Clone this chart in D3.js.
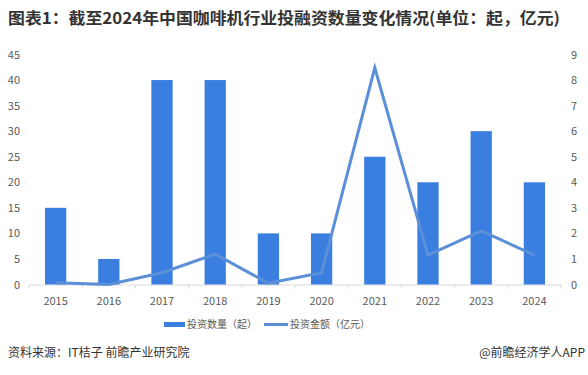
<!DOCTYPE html>
<html lang="zh">
<head>
<meta charset="utf-8">
<title>咖啡机行业投融资</title>
<script src="https://d3js.org/d3.v7.min.js"></script>
<style>
  body { margin: 0; background: #fff; }
  svg text { font-family: "Noto Sans CJK SC", "Noto Sans", sans-serif; }
</style>
</head>
<body>
<div id="chart"></div>
<script>
  var years = ["2015", "2016", "2017", "2018", "2019", "2020", "2021", "2022", "2023", "2024"];
  var dealCount = [15, 5, 40, 40, 10, 10, 25, 20, 30, 20];
  var dealAmount = [0.07, 0.0, 0.46, 1.19, 0.05, 0.46, 8.48, 1.15, 2.1, 1.15];
  var leftTicks = [0, 5, 10, 15, 20, 25, 30, 35, 40, 45];
  var rightTicks = [0, 1, 2, 3, 4, 5, 6, 7, 8, 9];

  var w = 588, h = 375;
  // plot area (note: "top" is reserved on window, so use plotTop)
  var plotLeft = 29, plotRight = 561, plotTop = 54.5, plotBottom = 284.5;

  var svg = d3.select("#chart").append("svg")
    .attr("width", w)
    .attr("height", h);

  // title
  svg.append("text")
    .attr("x", 8)
    .attr("y", 24)
    .attr("font-size", 16)
    .attr("font-weight", "bold")
    .attr("fill", "#333")
    .attr("textLength", 552)
    .attr("lengthAdjust", "spacingAndGlyphs")
    .text("图表1：截至2024年中国咖啡机行业投融资数量变化情况(单位：起，亿元)");

  var x = d3.scaleBand()
    .domain(years)
    .range([plotLeft, plotRight])
    .paddingInner(0.6)
    .paddingOuter(0.3);

  var xOuter = d3.scaleBand().domain(years).range([plotLeft, plotRight]);

  var yL = d3.scaleLinear().domain([0, 45]).range([plotBottom, plotTop]);
  var yR = d3.scaleLinear().domain([0, 9]).range([plotBottom, plotTop]);

  // left axis labels
  svg.append("g")
    .attr("transform", "translate(20,0)")
    .call(d3.axisLeft(yL).tickValues(leftTicks).tickSize(0).tickPadding(0))
    .call(g => g.select(".domain").remove())
    .selectAll("text")
    .attr("font-size", 11)
    .attr("fill", "#595959");

  // right axis labels
  svg.append("g")
    .attr("transform", "translate(571,0)")
    .call(d3.axisRight(yR).tickValues(rightTicks).tickSize(0).tickPadding(0))
    .call(g => g.select(".domain").remove())
    .selectAll("text")
    .attr("font-size", 11)
    .attr("fill", "#595959");

  // x axis
  var xg = svg.append("g")
    .attr("transform", "translate(0," + plotBottom + ")")
    .call(d3.axisBottom(x).tickSize(0).tickPadding(13));
  xg.select(".domain").attr("stroke", "#d9d9d9");
  xg.selectAll("text").attr("font-size", 11).attr("fill", "#595959");

  // small ticks at band edges
  svg.append("g")
    .selectAll("line")
    .data(years.concat(["end"]))
    .enter()
    .append("line")
    .attr("x1", (d, i) => plotLeft + i * xOuter.step())
    .attr("x2", (d, i) => plotLeft + i * xOuter.step())
    .attr("y1", plotBottom)
    .attr("y2", plotBottom + 4)
    .attr("stroke", "#d9d9d9");

  // bars
  svg.append("g")
    .selectAll("rect")
    .data(dealCount)
    .enter()
    .append("rect")
    .attr("x", (d, i) => x(years[i]))
    .attr("y", d => yL(d))
    .attr("width", x.bandwidth())
    .attr("height", d => plotBottom - yL(d))
    .attr("fill", "#3a7fe0");

  // line
  var line = d3.line()
    .x((d, i) => x(years[i]) + x.bandwidth() / 2)
    .y(d => yR(d));

  svg.append("path")
    .datum(dealAmount)
    .attr("d", line)
    .attr("fill", "none")
    .attr("stroke", "#5b8fd8")
    .attr("stroke-width", 3)
    .attr("stroke-linejoin", "miter");

  // legend
  var lg = svg.append("g").attr("font-size", 10).attr("fill", "#595959");
  lg.append("rect").attr("x", 164).attr("y", 322).attr("width", 21).attr("height", 5).attr("fill", "#3a7fe0");
  lg.append("text").attr("x", 187).attr("y", 328).text("投资数量（起）");
  lg.append("line").attr("x1", 264).attr("x2", 288).attr("y1", 324.5).attr("y2", 324.5)
    .attr("stroke", "#5b8fd8").attr("stroke-width", 3);
  lg.append("text").attr("x", 290).attr("y", 328).text("投资金额（亿元）");

  // footer
  svg.append("text")
    .attr("x", 8)
    .attr("y", 357)
    .attr("font-size", 12)
    .attr("fill", "#333")
    .text("资料来源：IT桔子 前瞻产业研究院");

  svg.append("text")
    .attr("x", 585)
    .attr("y", 357)
    .attr("text-anchor", "end")
    .attr("font-size", 12)
    .attr("fill", "#333")
    .text("@前瞻经济学人APP");
</script>
</body>
</html>
